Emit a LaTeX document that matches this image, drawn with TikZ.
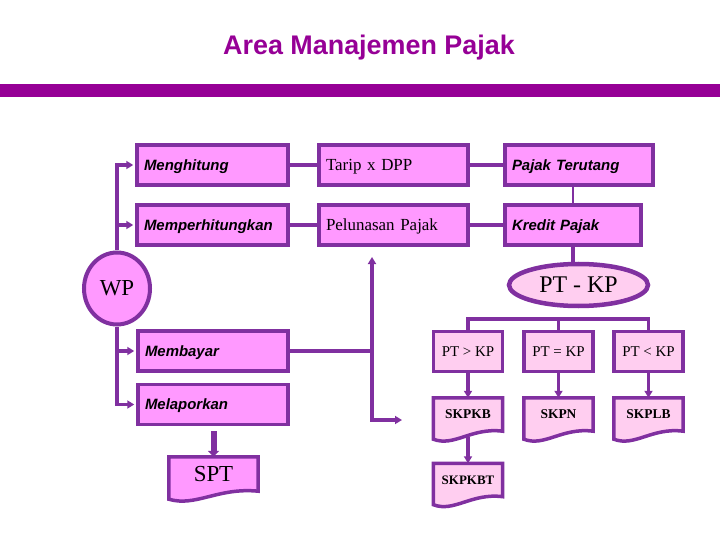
\documentclass[tikz,border=0pt]{standalone}
\usepackage{fontspec}
\setmainfont{Liberation Serif}
\setsansfont{Liberation Sans}
\usetikzlibrary{shapes.geometric,arrows.meta,positioning,calc,backgrounds}

\definecolor{lilac}{RGB}{128,48,160}
\definecolor{titlepurple}{RGB}{150,0,150}
\definecolor{boxpink}{RGB}{255,153,255}
\definecolor{palepink}{RGB}{255,206,240}

\begin{document}
\begin{tikzpicture}[x=1bp, y=-1bp,
    actbox/.style={rectangle, draw=lilac, line width=3.5bp, fill=boxpink, minimum height=40bp, inner xsep=7bp, text depth=0bp, align=left, font=\sffamily\bfseries\itshape\fontsize{15}{17}\selectfont},
    serifbox/.style={actbox, font=\fontsize{17}{19}\selectfont},
    ptbox/.style={rectangle, draw=lilac, line width=3.5bp, fill=palepink, minimum width=69bp, minimum height=40bp, inner sep=0pt, font=\fontsize{15}{17}\selectfont},
    skpdoc/.style={rectangle, minimum width=69bp, minimum height=33bp, inner sep=0pt, font=\bfseries\fontsize{13.5}{15}\selectfont},
    conn/.style={draw=lilac, line width=3.5bp},
    arr/.style={conn, -{Triangle[length=7bp,width=8bp]}, shorten >=2bp},
    fatarr/.style={draw=lilac, line width=6bp, -{Triangle[length=6bp,width=11bp]}}
]
\useasboundingbox (0,0) rectangle (720,540);

% Title and bar
\node[font=\sffamily\bfseries\fontsize{27}{30}\selectfont, text=titlepurple, anchor=base] (title) at (369,55) {Area Manajemen Pajak};
\fill[titlepurple] (0,84) rectangle (720,97);

% Upper rows
\node[actbox, text width=137bp] (meng) at (212.5,165) {Menghitung};
\node[serifbox, text width=135bp] (tarip) at (393.5,165) {Tarip x DPP};
\node[actbox, text width=134bp] (terutang) at (579,165) {Pajak Terutang};
\node[actbox, text width=137bp] (memper) at (212.5,225) {Memperhitungkan};
\node[serifbox, text width=135bp] (pelunasan) at (393.5,225) {Pelunasan Pajak};
\node[actbox, text width=122bp] (kredit) at (573,225) {Kredit Pajak};

\draw[conn] (meng.east) -- (tarip.west);
\draw[conn] (tarip.east) -- (terutang.west);
\draw[conn] (memper.east) -- (pelunasan.west);
\draw[conn] (pelunasan.east) -- (kredit.west);
\draw[draw=lilac, line width=2bp] (terutang.south -| kredit.north) -- (kredit.north);

% WP
\node[ellipse, draw=lilac, line width=4bp, fill=boxpink, minimum width=66bp, minimum height=72bp, inner sep=0pt, font=\fontsize{23}{25}\selectfont] (wp) at (117,288.5) {WP};

% PT - KP
\node[ellipse, draw=lilac, line width=4.5bp, fill=palepink, minimum width=139bp, minimum height=42bp, inner sep=0pt, font=\fontsize{24}{26}\selectfont] (ptkp) at (578.5,285) {PT - KP};
\draw[conn] (kredit.south) -- (kredit.south |- ptkp.north);

% Lower rows
\node[actbox, text width=136bp] (membayar) at (213,351) {Membayar};
\node[actbox, text width=136bp] (melaporkan) at (213,404.5) {Melaporkan};
\node[skpdoc, minimum width=89bp, minimum height=34bp, font=\fontsize{23}{25}\selectfont] (spt) at (213.5,474) {SPT};

\foreach \b in {meng,memper}
    \draw[arr] (wp.north) |- (\b.west);
\foreach \b in {membayar,melaporkan}
    \draw[arr] (wp.south) |- (\b.west);
\draw[fatarr, shorten <=5bp] (melaporkan.south -| spt.north) -- (spt.north);

% Payment branch
\coordinate (jn) at (372,351);
\coordinate (uptip) at (372,257);
\coordinate (rtip) at (402,420);
\draw[conn] (membayar.east) -- (jn);
\draw[arr, shorten >=0pt] (jn) -- (uptip);
\draw[arr, shorten >=0pt] (jn) |- (rtip);

% Comparison boxes
\node[ptbox] (ptgt) at (468,351.5) {PT > KP};
\node[ptbox] (pteq) at (558.5,351.5) {PT = KP};
\node[ptbox] (ptlt) at (648.5,351.5) {PT < KP};
\node[skpdoc] (skpkb) at (468,414.5) {SKPKB};
\node[skpdoc] (skpn) at (558.5,414.5) {SKPN};
\node[skpdoc] (skplb) at (648.5,414.5) {SKPLB};
\node[skpdoc, font=\bfseries\fontsize{13}{15}\selectfont] (skpkbt) at (468,480) {SKPKBT};

\coordinate (fork) at (558.5,319);
\draw[conn] (ptgt.north) |- (fork) -| (ptlt.north);
\draw[conn] (fork) -- (pteq.north);

\draw[arr, shorten >=0pt] (ptgt.south) -- (skpkb.north);
\draw[arr, shorten >=0pt] (pteq.south) -- (skpn.north);
\draw[arr, shorten >=0pt] (ptlt.south) -- (skplb.north);
\draw[arr, shorten >=0pt] ($(skpkb.south)+(0,6)$) -- (skpkbt.north);

% document shapes behind the texts
\begin{scope}[on background layer]
\foreach \n/\c in {spt/boxpink, skpkb/palepink, skpn/palepink, skplb/palepink, skpkbt/palepink}
    \draw[draw=lilac, line width=3.5bp, fill=\c] (\n.south east) -- (\n.north east) -- (\n.north west) -- ($(\n.south west)+(0,8)$)
        .. controls ($(\n.south west)!0.3!(\n.south east)+(0,16)$) and ($(\n.south west)!0.55!(\n.south east)+(0,-4)$) .. (\n.south east) -- cycle;
\end{scope}

\end{tikzpicture}
\end{document}
